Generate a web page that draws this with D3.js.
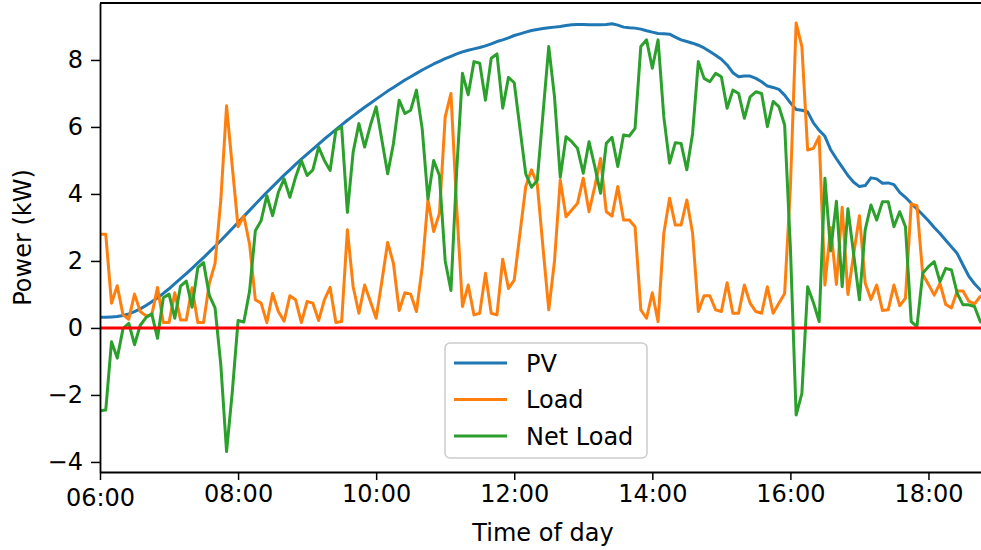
<!DOCTYPE html>
<html>
<head>
<meta charset="utf-8">
<script src="https://cdn.jsdelivr.net/npm/d3@7"></script>
<style>
  body { margin: 0; background: #fff; }
  text { font-family: "DejaVu Sans", sans-serif; }
</style>
</head>
<body>
<svg id="chart"></svg>
<script>
// 5-minute samples, first one at 06:00
const startTime = new Date(2020, 0, 1, 6, 0);
const stepMinutes = 5;

// PV generation (kW)
const pv = [
  0.32, 0.32, 0.33, 0.34, 0.37, 0.42, 0.49, 0.57, 0.67, 0.78,
  0.90, 1.03, 1.17, 1.32, 1.47, 1.62, 1.78, 1.94, 2.10, 2.27,
  2.44, 2.61, 2.79, 2.97, 3.15, 3.33, 3.51, 3.69, 3.87, 4.05,
  4.22, 4.39, 4.56, 4.72, 4.88, 5.04, 5.19, 5.34, 5.49, 5.64,
  5.78, 5.92, 6.06, 6.20, 6.33, 6.46, 6.59, 6.71, 6.83, 6.95,
  7.07, 7.18, 7.29, 7.40, 7.50, 7.60, 7.70, 7.79, 7.88, 7.96,
  8.04, 8.11, 8.18, 8.24, 8.29, 8.33, 8.37, 8.42, 8.48, 8.55,
  8.60, 8.66, 8.73, 8.78, 8.83, 8.88, 8.91, 8.94, 8.96, 8.98,
  9.00, 9.03, 9.05, 9.06, 9.06, 9.05, 9.05, 9.05, 9.06, 9.08,
  9.04, 8.98, 8.96, 8.95, 8.92, 8.87, 8.83, 8.79, 8.78, 8.77,
  8.68, 8.60, 8.55, 8.50, 8.44, 8.36, 8.25, 8.14, 8.02, 7.85,
  7.62, 7.50, 7.52, 7.52, 7.45, 7.35, 7.22, 7.18, 7.12, 6.95,
  6.72, 6.52, 6.50, 6.45, 6.12, 5.90, 5.72, 5.32, 5.05, 4.80,
  4.55, 4.35, 4.22, 4.25, 4.48, 4.45, 4.32, 4.33, 4.28, 4.05,
  3.90, 3.72, 3.55, 3.38, 3.20, 3.00, 2.82, 2.62, 2.42, 2.22,
  1.88, 1.55, 1.32, 1.14, 1.00
];

// household load (kW)
const load = [
  2.80, 2.80, 0.74, 1.26, 0.39, 0.26, 1.01, 0.49, 0.36, 0.39,
  1.21, 0.16, 0.16, 1.05, 0.24, 0.24, 1.20, 0.16, 0.16, 1.33,
  1.93, 3.82, 6.63, 4.80, 3.02, 3.34, 2.50, 0.84, 0.74, 0.16,
  1.03, 0.49, 0.20, 0.96, 0.84, 0.16, 0.79, 0.74, 0.22, 0.84,
  1.21, 0.16, 0.19, 2.93, 1.23, 0.44, 1.28, 0.79, 0.29, 1.40,
  2.55, 1.93, 0.52, 1.05, 1.01, 0.49, 1.80, 3.82, 2.88, 3.42,
  6.30, 7.00, 3.60, 0.64, 1.28, 0.39, 0.44, 1.63, 0.44, 0.39,
  2.05, 1.18, 1.43, 2.83, 4.22, 4.72, 4.30, 2.40, 0.54, 2.00,
  4.42, 3.32, 3.52, 3.72, 4.47, 3.47, 4.22, 5.06, 3.47, 3.34,
  4.22, 3.22, 3.22, 3.02, 0.54, 0.29, 1.05, 0.19, 2.83, 3.87,
  3.07, 3.07, 3.82, 2.83, 0.49, 0.96, 0.96, 0.54, 0.49, 1.35,
  0.44, 0.44, 1.28, 0.74, 0.49, 0.44, 1.23, 0.44, 0.74, 1.03,
  4.20, 9.10, 8.40, 5.31, 5.36, 5.71, 1.28, 3.00, 1.30, 3.60,
  1.00, 2.20, 3.35, 1.34, 0.85, 1.28, 0.52, 0.54, 1.28, 0.66,
  0.89, 3.70, 3.65, 1.60, 1.30, 0.98, 1.33, 0.70, 0.60, 1.10,
  1.10, 0.80, 0.72, 0.94, 0.90
];

// net load (kW)
const netLoad = [
  -2.47, -2.45, -0.41, -0.90, -0.02, 0.14, -0.50, 0.08, 0.31, 0.42,
  -0.31, 0.90, 1.01, 0.29, 1.25, 1.40, 0.62, 1.80, 1.95, 0.97,
  0.60, -1.10, -3.69, -1.90, 0.22, 0.18, 1.10, 2.90, 3.20, 3.95,
  3.35, 4.05, 4.45, 3.90, 4.50, 5.00, 4.55, 4.72, 5.40, 5.00,
  4.70, 5.90, 6.00, 3.45, 5.25, 6.10, 5.40, 6.05, 6.60, 5.60,
  4.60, 5.50, 6.80, 6.40, 6.50, 7.10, 5.95, 3.85, 5.00, 4.55,
  2.00, 1.12, 4.70, 7.60, 6.96, 7.95, 7.90, 6.80, 8.05, 8.18,
  6.56, 7.48, 7.32, 5.95, 4.60, 4.20, 4.40, 6.40, 8.40, 6.90,
  4.50, 5.71, 5.56, 5.36, 4.62, 5.56, 4.82, 4.02, 5.51, 5.69,
  4.82, 5.76, 5.73, 5.96, 8.40, 8.60, 7.75, 8.60, 6.30, 4.92,
  5.53, 5.51, 4.72, 5.80, 7.95, 7.45, 7.35, 7.60, 7.50, 6.56,
  7.10, 7.00, 6.26, 6.90, 7.05, 7.00, 6.01, 6.76, 6.61, 6.06,
  2.40, -2.60, -1.95, 1.23, 0.76, 0.19, 4.47, 2.30, 3.78, 1.23,
  3.56, 2.20, 0.84, 2.93, 3.67, 3.22, 3.77, 3.77, 3.02, 3.47,
  3.02, 0.19, 0.04, 1.63, 1.83, 1.98, 1.38, 1.78, 1.73, 1.03,
  0.69, 0.69, 0.64, 0.19, 0.10
];

const seriesNames = ["PV", "Load", "Net Load"];
const seriesColors = ["#1f77b4", "#ff7f0e", "#2ca02c"];
const yTicks = [-4, -2, 0, 2, 4, 6, 8];
const xTickHours = [6, 8, 10, 12, 14, 16, 18];

const width = 981, height = 550;
const plotLeft = 100, plotTop = 3, plotBottom = 472;
const plotRight = 986; // the axes run slightly past the picture edge

const times = pv.map((d, i) => d3.timeMinute.offset(startTime, i * stepMinutes));

const svg = d3.select("#chart")
  .attr("width", width)
  .attr("height", height)
  .style("background", "#fff");

const x = d3.scaleTime()
  .domain([startTime, d3.timeMinute.offset(startTime, 770)])
  .range([plotLeft, plotRight]);

const y = d3.scaleLinear()
  .domain([-4.3, 9.7])
  .range([plotBottom, plotTop]);

svg.append("clipPath").attr("id", "plot-clip")
  .append("rect")
  .attr("x", plotLeft).attr("y", plotTop)
  .attr("width", plotRight - plotLeft).attr("height", plotBottom - plotTop);

const plot = svg.append("g").attr("clip-path", "url(#plot-clip)");

const line = d3.line()
  .x((d, i) => x(times[i]))
  .y(d => y(d));

[pv, load, netLoad].forEach((values, k) => {
  plot.append("path")
    .datum(values)
    .attr("fill", "none")
    .attr("stroke", seriesColors[k])
    .attr("stroke-width", 3)
    .attr("stroke-linejoin", "round")
    .attr("d", line);
});

// zero line
plot.append("line")
  .attr("x1", plotLeft).attr("x2", plotRight)
  .attr("y1", y(0)).attr("y2", y(0))
  .attr("stroke", "#ff0000")
  .attr("stroke-width", 3);

// axes
const yAxis = svg.append("g")
  .attr("transform", `translate(${plotLeft},0)`)
  .call(d3.axisLeft(y).tickValues(yTicks).tickSize(9).tickPadding(8).tickSizeOuter(0));

const xAxis = svg.append("g")
  .attr("transform", `translate(0,${plotBottom})`)
  .call(d3.axisBottom(x)
    .tickValues(xTickHours.map(h => new Date(2020, 0, 1, h, 0)))
    .tickFormat(d3.timeFormat("%H:%M"))
    .tickSize(8).tickPadding(5).tickSizeOuter(0));

[yAxis, xAxis].forEach(g => {
  g.select(".domain").attr("stroke", "#000").attr("stroke-width", 1.8);
  g.selectAll(".tick line").attr("stroke", "#000").attr("stroke-width", 1.5);
  g.selectAll(".tick text")
    .attr("fill", "#000")
    .style("font-family", "'DejaVu Sans', sans-serif")
    .style("font-size", "24px");
});

// first time label sits a little lower in the original
xAxis.select(".tick text").attr("dy", "0.88em");

// top spine
svg.append("line")
  .attr("x1", plotLeft).attr("x2", plotRight)
  .attr("y1", plotTop).attr("y2", plotTop)
  .attr("stroke", "#000").attr("stroke-width", 1.8);

// axis titles
svg.append("text")
  .attr("x", (plotLeft + plotRight) / 2)
  .attr("y", 541)
  .attr("text-anchor", "middle")
  .style("font-size", "24px")
  .text("Time of day");

svg.append("text")
  .attr("transform", `translate(31,${(plotTop + plotBottom) / 2}) rotate(-90)`)
  .attr("text-anchor", "middle")
  .style("font-size", "24px")
  .text("Power (kW)");

// legend
const legend = svg.append("g").attr("transform", "translate(445,343)");
legend.append("rect")
  .attr("width", 202).attr("height", 115)
  .attr("rx", 5).attr("ry", 5)
  .attr("fill", "#fff").attr("fill-opacity", 0.8)
  .attr("stroke", "#cccccc").attr("stroke-width", 1.5);

seriesNames.forEach((name, k) => {
  const ly = 20 + k * 36.5;
  legend.append("line")
    .attr("x1", 9).attr("x2", 62)
    .attr("y1", ly).attr("y2", ly)
    .attr("stroke", seriesColors[k])
    .attr("stroke-width", 3);
  legend.append("text")
    .attr("x", 81).attr("y", ly + 8.5)
    .style("font-size", "24px")
    .text(name);
});
</script>
</body>
</html>
